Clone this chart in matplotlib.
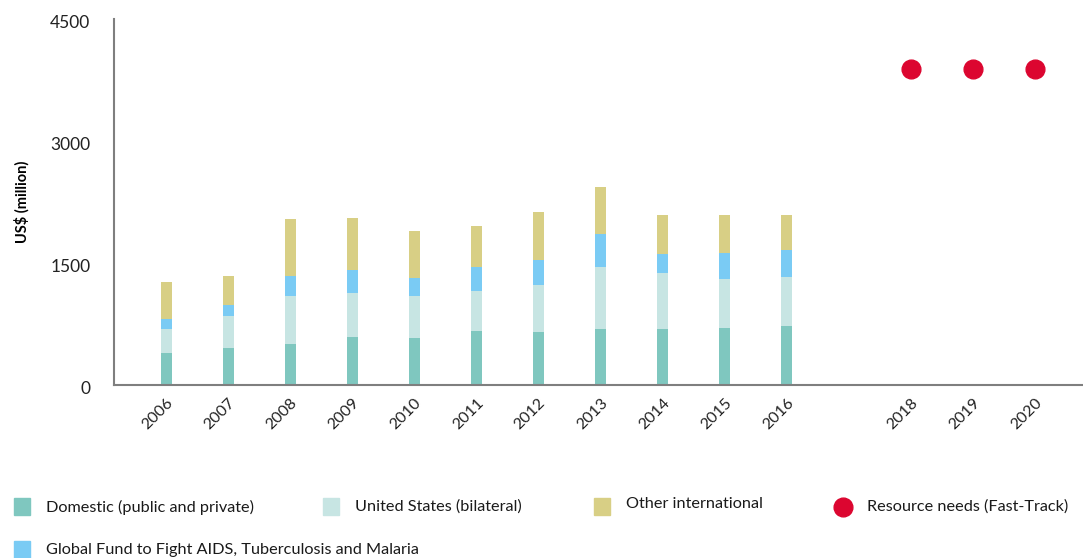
import matplotlib
matplotlib.use("Agg")
import matplotlib.pyplot as plt
from matplotlib.patches import Rectangle
from matplotlib.lines import Line2D
from matplotlib.transforms import ScaledTranslation

years = [2006, 2007, 2008, 2009, 2010, 2011, 2012, 2013, 2014, 2015, 2016]
domestic = [394, 455, 504, 590, 578, 664, 652, 689, 689, 701, 726]
united_states = [295, 394, 591, 542, 517, 492, 578, 762, 689, 603, 602]
global_fund = [123, 135, 246, 283, 221, 295, 311, 406, 237, 320, 333]
other_intl = [455, 357, 701, 639, 578, 505, 587, 578, 476, 467, 430]

need_years = [2018, 2019, 2020]
resource_needs = [3890, 3890, 3890]

tick_years = [2006, 2007, 2008, 2009, 2010, 2011, 2012, 2013, 2014, 2015, 2016, 2018, 2019, 2020]
yticks = [0, 1500, 3000, 4500]

c_dom = "#7fc7bf"
c_us = "#c7e5e3"
c_gf = "#7acbf4"
c_oth = "#d8cf85"
c_red = "#dc0630"

plt.rcParams['font.family'] = ['Lato', 'DejaVu Sans']

W, H = 1083, 558
fig = plt.figure(figsize=(W / 100, H / 100), dpi=100)
ax = fig.add_axes([114 / W, 1 - 385 / H, 1 - 114 / W, (385 - 19) / H])

bw = 0.18
b1 = domestic
b2 = [a + b for a, b in zip(b1, united_states)]
b3 = [a + b for a, b in zip(b2, global_fund)]
ax.bar(years, domestic, width=bw, color=c_dom)
ax.bar(years, united_states, width=bw, bottom=b1, color=c_us)
ax.bar(years, global_fund, width=bw, bottom=b2, color=c_gf)
ax.bar(years, other_intl, width=bw, bottom=b3, color=c_oth)
ax.plot(need_years, resource_needs, 'o', color=c_red, markersize=13.5, linestyle='none')

ax.set_xlim(2005.16, 2020.78)
ax.set_ylim(0, 4500)
ax.set_yticks(yticks)
ax.set_yticklabels([str(v) for v in yticks], fontsize=12.5, color='#222222')
ax.set_xticks(tick_years)
ax.set_xticklabels([str(v) for v in tick_years], rotation=45, ha='right',
                   rotation_mode='anchor', fontsize=11.5, color='#222222')
ax.tick_params(axis='both', length=0)
ax.tick_params(axis='y', pad=17)
ax.tick_params(axis='x', pad=8)
shift = ScaledTranslation(0, -3 / 100, fig.dpi_scale_trans)
for lab in ax.get_yticklabels():
    lab.set_transform(lab.get_transform() + shift)
for s in ['top', 'right']:
    ax.spines[s].set_visible(False)
for s in ['left', 'bottom']:
    ax.spines[s].set_color('#7f7f7f')
    ax.spines[s].set_linewidth(1.5)
ax.set_ylabel("US$ (million)", fontsize=10.5, fontweight='bold', labelpad=15)

LFS = 11.7

def leg_square(x, y, color, label, dy=0):
    fig.add_artist(Rectangle((x / W, 1 - (y + 8) / H), 16 / W, 17 / H,
                             transform=fig.transFigure, color=color))
    fig.text((x + 32) / W, 1 - (y + dy) / H, label, fontsize=LFS,
             va='center', ha='left', color='#1a1a1a')

leg_square(14, 507, c_dom, "Domestic (public and private)")
leg_square(323, 507, c_us, "United States (bilateral)")
leg_square(594, 507, c_oth, "Other international", dy=-3)
leg_square(14, 550, c_gf, "Global Fund to Fight AIDS, Tuberculosis and Malaria")
fig.add_artist(Line2D([843 / W], [1 - 507 / H], marker='o', markersize=13.5,
                      color=c_red, linestyle='none', transform=fig.transFigure))
fig.text(867 / W, 1 - 507 / H, "Resource needs (Fast-Track)", fontsize=LFS,
         va='center', ha='left', color='#1a1a1a')

fig.savefig("out.png", dpi=100)
